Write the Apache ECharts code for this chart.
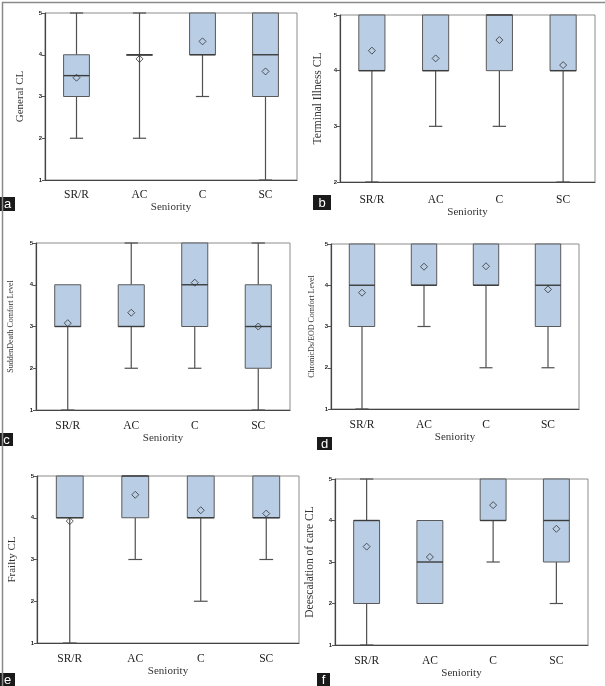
<!DOCTYPE html>
<html>
<head>
<meta charset="utf-8">
<script src="https://cdn.jsdelivr.net/npm/echarts@6/dist/echarts.min.js"></script>
<style>
  html, body { margin: 0; padding: 0; background: #fff; }
  #chartArea { width: 605px; height: 686px; }
</style>
</head>
<body>
<div id="chartArea"></div>
<script>
var categories = ['SR/R', 'AC', 'C', 'SC'];

// each row: [min, Q1, median, Q3, max]
var generalBox = [[2, 3, 3.5, 4, 5], [2, 4, 4, 4, 5], [3, 4, 4, 5, 5], [1, 3, 4, 5, 5]];
var generalMean = [3.45, 3.9, 4.32, 3.6];

var terminalBox = [[2, 4, 4, 5, 5], [3, 4, 4, 5, 5], [3, 4, 5, 5, 5], [2, 4, 4, 5, 5]];
var terminalMean = [4.36, 4.22, 4.55, 4.1];

var suddenBox = [[1, 3, 3, 4, 4], [2, 3, 3, 4, 5], [2, 3, 4, 5, 5], [1, 2, 3, 4, 5]];
var suddenMean = [3.08, 3.33, 4.05, 3.0];

var chronicBox = [[1, 3, 4, 5, 5], [3, 4, 4, 5, 5], [2, 4, 4, 5, 5], [2, 3, 4, 5, 5]];
var chronicMean = [3.82, 4.45, 4.46, 3.9];

var frailtyBox = [[1, 4, 4, 5, 5], [3, 4, 5, 5, 5], [2, 4, 4, 5, 5], [3, 4, 4, 5, 5]];
var frailtyMean = [3.92, 4.55, 4.18, 4.1];

var deescBox = [[1, 2, 4, 4, 5], [2, 2, 3, 4, 4], [3, 4, 4, 5, 5], [2, 3, 4, 5, 5]];
var deescMean = [3.37, 3.12, 4.37, 3.8];

var yNames = ['General CL', 'Terminal Illness CL', 'SuddenDeath Comfort Level',
    'ChronicDs/EOD Comfort Level', 'Frailty CL', 'Deescalation of care CL'];
var yMins = [1, 2, 1, 1, 1, 1];
var panelLetters = ['a', 'b', 'c', 'd', 'e', 'f'];

// layout of the six plots (px)
var layout = [
    {left: 45, top: 13, width: 252, height: 167, yGap: 19, yFont: 11, labMargin: 9, nameGap: 21},
    {left: 340, top: 15, width: 255, height: 167, yGap: 16, yFont: 11.5, labMargin: 12, nameGap: 24},
    {left: 36, top: 243, width: 254, height: 167, yGap: 21, yFont: 8, labMargin: 10, nameGap: 23},
    {left: 331, top: 244, width: 248, height: 165, yGap: 15, yFont: 8, labMargin: 10, nameGap: 22},
    {left: 37, top: 476, width: 262, height: 167, yGap: 19, yFont: 11, labMargin: 10, nameGap: 22},
    {left: 335, top: 479, width: 253, height: 166, yGap: 19, yFont: 11.5, labMargin: 10, nameGap: 23}
];
var letterBoxes = [
    {x: 0, y: 197, w: 15, h: 14},
    {x: 313, y: 195, w: 18, h: 15},
    {x: 0, y: 433, w: 13, h: 13},
    {x: 317, y: 437, w: 15, h: 13},
    {x: 0, y: 673, w: 15, h: 13},
    {x: 317, y: 673, w: 13, h: 13}
];

var boxes = [generalBox, terminalBox, suddenBox, chronicBox, frailtyBox, deescBox];
var means = [generalMean, terminalMean, suddenMean, chronicMean, frailtyMean, deescMean];

var serif = 'Liberation Serif';
var lineCol = '#505050';

function renderBox(params, api) {
    var i = api.value(0);
    var lo = api.coord([i, api.value(1)]);
    var q1 = api.coord([i, api.value(2)]);
    var md = api.coord([i, api.value(3)]);
    var q3 = api.coord([i, api.value(4)]);
    var hi = api.coord([i, api.value(5)]);
    var band = api.size([1, 0])[0];
    var bw = band * 0.41, cw = band * 0.21;
    var cx = lo[0];
    var st = {stroke: lineCol, lineWidth: 1.2};
    var kids = [];
    if (lo[1] !== q1[1]) {
        kids.push({type: 'line', shape: {x1: cx, y1: q1[1], x2: cx, y2: lo[1]}, style: st});
        kids.push({type: 'line', shape: {x1: cx - cw / 2, y1: lo[1], x2: cx + cw / 2, y2: lo[1]}, style: st});
    }
    if (hi[1] !== q3[1]) {
        kids.push({type: 'line', shape: {x1: cx, y1: q3[1], x2: cx, y2: hi[1]}, style: st});
        kids.push({type: 'line', shape: {x1: cx - cw / 2, y1: hi[1], x2: cx + cw / 2, y2: hi[1]}, style: st});
    }
    kids.push({
        type: 'rect',
        shape: {x: cx - bw / 2, y: q3[1], width: bw, height: Math.max(q1[1] - q3[1], 0.5)},
        style: {fill: '#b9cde5', stroke: '#5a5a5a', lineWidth: 1}
    });
    kids.push({type: 'line', shape: {x1: cx - bw / 2, y1: md[1], x2: cx + bw / 2, y2: md[1]},
        style: {stroke: '#3c3c3c', lineWidth: 1.4}});
    return {type: 'group', children: kids};
}

var grids = [], xAxes = [], yAxes = [], series = [], graphics = [];

layout.forEach(function (g, k) {
    grids.push({left: g.left, top: g.top, width: g.width, height: g.height,
        show: true, borderColor: '#8c8c8c', borderWidth: 1});
    xAxes.push({
        gridIndex: k, type: 'category', data: categories,
        axisLine: {lineStyle: {color: '#444', width: 1.2}},
        axisTick: {alignWithLabel: true, length: 3, lineStyle: {color: '#666'}},
        axisLabel: {fontFamily: serif, fontSize: 11.5, color: '#222', margin: g.labMargin},
        name: 'Seniority', nameLocation: 'middle', nameGap: g.nameGap,
        nameTextStyle: {fontFamily: serif, fontSize: 11, color: '#333'}
    });
    yAxes.push({
        gridIndex: k, type: 'value', min: yMins[k], max: 5, interval: 1,
        splitLine: {show: false},
        axisLine: {show: true, lineStyle: {color: '#444', width: 1.2}},
        axisTick: {show: true, length: 3, lineStyle: {color: '#555'}},
        axisLabel: {fontSize: 6, fontWeight: 'bold', color: '#222', margin: 3, fontFamily: 'Liberation Sans'},
        name: yNames[k], nameLocation: 'middle', nameGap: g.yGap,
        nameTextStyle: {fontFamily: serif, fontSize: g.yFont, color: '#333'}
    });
    series.push({
        type: 'custom', xAxisIndex: k, yAxisIndex: k, clip: false,
        renderItem: renderBox,
        data: boxes[k].map(function (b, i) { return [i].concat(b); })
    });
    series.push({
        type: 'scatter', xAxisIndex: k, yAxisIndex: k, z: 5,
        symbol: 'diamond', symbolSize: 7,
        itemStyle: {color: 'rgba(0,0,0,0)', borderColor: '#333', borderWidth: 1},
        data: means[k].map(function (m, i) { return [i, m]; })
    });
    var lb = letterBoxes[k];
    graphics.push({
        type: 'group', left: lb.x, top: lb.y,
        children: [
            {type: 'rect', shape: {x: 0, y: 0, width: lb.w, height: lb.h}, style: {fill: '#1a1a1a'}},
            {type: 'text', x: lb.w / 2, y: lb.h / 2 + 0.5,
                style: {text: panelLetters[k], fill: '#fff', font: '13px "Liberation Sans"',
                    align: 'center', verticalAlign: 'middle'}}
        ]
    });
});

graphics.push({
    type: 'rect', left: 0, top: 0, z: 10,
    shape: {x: 0.75, y: 0.75, width: 603.5, height: 684.5},
    style: {fill: 'none', stroke: '#8a8a8a', lineWidth: 1.5}
});

var myChart = echarts.init(document.getElementById('chartArea'));
myChart.setOption({
    animation: false,
    grid: grids,
    xAxis: xAxes,
    yAxis: yAxes,
    series: series,
    graphic: graphics
});
</script>
</body>
</html>
